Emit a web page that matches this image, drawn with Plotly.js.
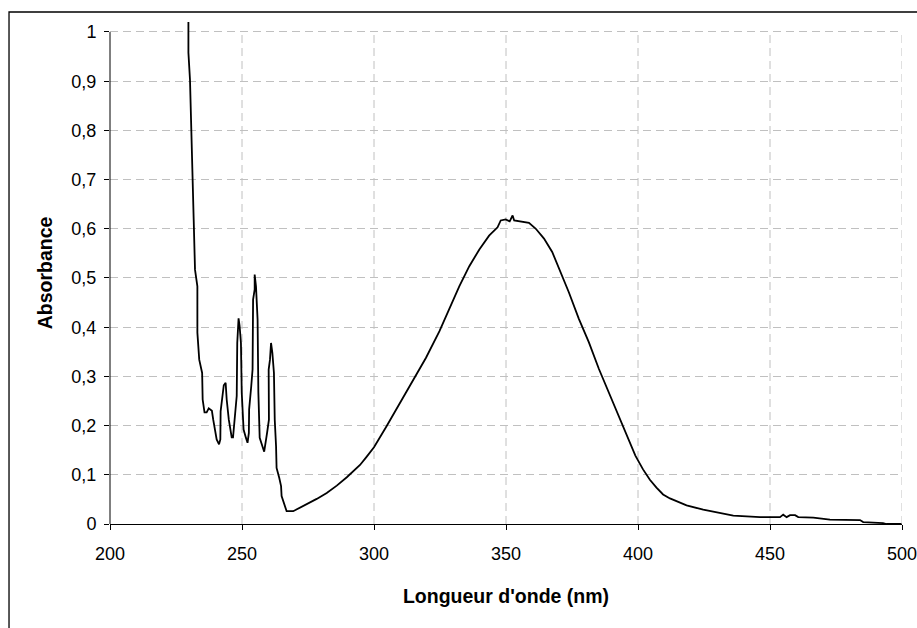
<!DOCTYPE html>
<html>
<head>
<meta charset="utf-8">
<script src="https://cdn.plot.ly/plotly-3.0.1.min.js"></script>
<style>html,body{margin:0;padding:0;background:#fff;}#chart{width:917px;height:628px;}</style>
</head>
<body>
<div id="chart"></div>
<script>
// Wavelength (nm)
const wavelength = [
  229.7,229.7,230.3,230.6,230.9,231.2,231.2,231.7,232.2,233.1,
  233.1,233.8,234.9,235.1,235.8,236.6,237.4,238.6,239.1,239.7,
  240.4,241.3,241.8,241.9,242.7,243.1,243.8,244.2,245.0,245.7,
  246.1,246.6,247.2,248.0,248.2,248.7,249.1,249.6,249.9,250.6,
  251.5,252.1,252.6,252.7,253.5,254.0,254.2,254.8,254.8,255.3,
  255.9,256.2,256.7,258.1,258.4,259.5,260.2,260.1,260.6,261.0,
  261.5,262.1,262.4,262.9,263.1,264.1,264.8,265.0,265.9,266.9,
  269.4,272.0,274.5,278.3,282.1,285.9,289.7,294.7,297.1,300.0,
  304.7,309.7,314.7,319.7,324.8,328.6,332.3,336.1,339.9,343.6,
  346.8,348.0,349.9,351.4,352.5,353.1,356.2,358.7,361.3,364.4,
  367.5,371.3,373.8,377.6,381.4,385.2,388.9,392.7,396.5,399.0,
  401.9,404.5,407.0,409.5,412.1,414.6,418.4,424.7,431.1,436.1,
  446.2,453.8,455.0,456.3,457.6,459.5,460.7,466.4,472.7,484.1,
  485.3,492.8,494.1,499.8
];
// Absorbance
const absorbance = [
  1.03,0.958,0.903,0.829,0.802,0.700,0.673,0.619,0.517,0.483,
  0.389,0.334,0.307,0.253,0.227,0.227,0.235,0.230,0.212,0.192,
  0.172,0.162,0.172,0.229,0.267,0.282,0.287,0.253,0.212,0.189,
  0.176,0.176,0.212,0.260,0.368,0.418,0.402,0.368,0.267,0.192,
  0.175,0.165,0.185,0.233,0.280,0.314,0.456,0.477,0.507,0.483,
  0.416,0.267,0.175,0.151,0.147,0.185,0.212,0.314,0.334,0.368,
  0.348,0.307,0.212,0.158,0.114,0.094,0.077,0.057,0.040,0.026,
  0.026,0.033,0.040,0.051,0.063,0.078,0.095,0.120,0.136,0.156,
  0.198,0.245,0.290,0.338,0.392,0.440,0.483,0.524,0.558,0.586,
  0.603,0.617,0.619,0.615,0.627,0.617,0.615,0.612,0.600,0.580,
  0.553,0.505,0.471,0.417,0.369,0.315,0.268,0.220,0.173,0.139,
  0.111,0.090,0.074,0.060,0.052,0.046,0.038,0.029,0.023,0.017,
  0.014,0.014,0.019,0.014,0.018,0.018,0.014,0.013,0.009,0.008,
  0.004,0.002,0.000,0.000
];
const xTicks = [200, 250, 300, 350, 400, 450, 500];
const yTicks = [0, 0.1, 0.2, 0.3, 0.4, 0.5, 0.6, 0.7, 0.8, 0.9, 1];
const xTitle = "Longueur d'onde (nm)";
const yTitle = "Absorbance";

const FONT = "Liberation Sans, Arial, sans-serif";
const gridDash = "8px,5px";
const gridColor = "#c0c0c0";

const shapes = [];
// vertical dashed gridlines (stop at y = 1)
xTicks.slice(1).forEach(v => shapes.push({
  type: 'line', xref: 'x', yref: 'y', x0: v, x1: v, y0: 0, y1: 1,
  line: {color: gridColor, width: 1, dash: gridDash}, layer: 'below'
}));
// y axis line from 0 to 1
shapes.push({type: 'line', xref: 'paper', yref: 'y', x0: 0, x1: 0, y0: 0, y1: 1,
  line: {color: '#000', width: 1}});
// outer chart border
shapes.push({type: 'rect', xref: 'paper', yref: 'paper',
  x0: -0.1275, x1: 1.2, y0: -0.5, y1: 1.0199,
  line: {color: '#000', width: 1.3}, fillcolor: 'rgba(0,0,0,0)'});

const trace = {
  x: wavelength, y: absorbance, type: 'scatter', mode: 'lines',
  line: {color: '#000', width: 1.8}, hoverinfo: 'skip'
};

const layout = {
  width: 917, height: 628,
  margin: {l: 110, r: 15, t: 22, b: 104},
  paper_bgcolor: '#fff', plot_bgcolor: '#fff',
  separators: ', ',
  showlegend: false,
  font: {family: FONT, color: '#000', size: 18},
  xaxis: {
    range: [200, 500], tickvals: xTicks, ticktext: xTicks.map(String),
    showgrid: false, zeroline: false, showline: true, linecolor: '#000', linewidth: 1,
    ticks: 'outside', ticklen: 5, tickcolor: '#000',
    ticklabelstandoff: 8, ticklabeloverflow: 'allow',
    tickfont: {family: FONT, size: 18, color: '#000'},
    title: {text: xTitle, font: {family: FONT, size: 19.5, color: '#000', weight: 'bold'}, standoff: 26},
    automargin: false
  },
  yaxis: {
    range: [0, 1.0203], tickvals: yTicks,
    ticktext: yTicks.map(v => String(v).replace('.', ',')),
    showgrid: true, gridcolor: gridColor, griddash: gridDash, gridwidth: 1,
    zeroline: false, showline: false,
    ticks: 'outside', ticklen: 5, tickcolor: '#000',
    ticklabelstandoff: 4,
    tickfont: {family: FONT, size: 18, color: '#000'},
    title: {text: yTitle, font: {family: FONT, size: 19.5, color: '#000', weight: 'bold'}, standoff: 13},
    automargin: false
  },
  shapes: shapes
};

Plotly.newPlot('chart', [trace], layout, {displayModeBar: false, staticPlot: true});
</script>
</body>
</html>
